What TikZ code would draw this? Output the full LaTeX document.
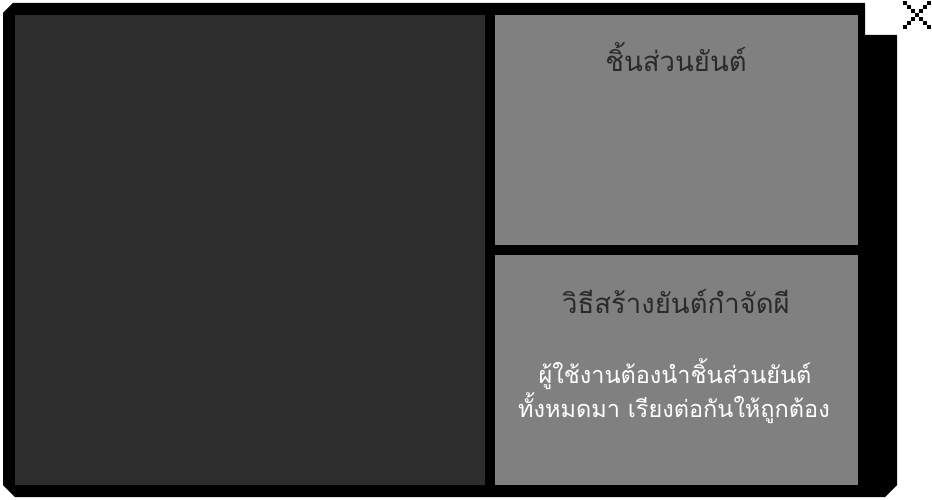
\documentclass[tikz,border=0pt]{standalone}
\usepackage{fontspec}
\newfontfamily\thaifont[Script=Thai]{Loma}
\definecolor{frameblack}{HTML}{000000}
\definecolor{darkpanel}{HTML}{2D2D2D}
\definecolor{graypanel}{HTML}{808080}
\definecolor{darktext}{HTML}{2A2A2A}
\tikzset{
  panel/.style={draw=none, inner sep=0pt, outer sep=0pt},
  titletext/.style={anchor=base, inner sep=0pt, text=darktext, font=\thaifont\fontsize{27.5}{34}\selectfont},
  bodytext/.style={anchor=base, inner sep=0pt, text=white, font=\thaifont\fontsize{23.5}{30}\selectfont},
  pix/.style={fill=black, draw=none}
}
\begin{document}
\begin{tikzpicture}[x=1pt,y=-1pt]
\useasboundingbox (0,0) rectangle (932,500);
\fill[white] (0,0) rectangle (932,500);
% outer black frame with chamfered corners and top-right notch
\fill[frameblack] (13,3) -- (865,3) -- (865,35) -- (897,35) -- (897,485)
  -- (885,497) -- (15,497) -- (3,485) -- (3,13) -- cycle;
% panels
\node[panel, fill=darkpanel, minimum width=470, minimum height=470] (left) at (250,250) {};
\node[panel, fill=graypanel, minimum width=363, minimum height=230] (parts) at (676.5,130) {};
\node[panel, fill=graypanel, minimum width=363, minimum height=230] (howto) at (676.5,370) {};
% texts
\node[titletext] (t1) at (676,72) {ชิ้นส่วนยันต์};
\node[titletext] (t2) at (676,313) {วิธีสร้างยันต์กำจัดผี};
\node[bodytext] (b1) at (675,383) {ผู้ใช้งานต้องนำชิ้นส่วนยันต์};
\node[bodytext] (b2) at (674,417) {ทั้งหมดมา เรียงต่อกันให้ถูกต้อง};
% close mark (pixel X)
\foreach \k in {0,...,6} {
  \fill[pix] (902.5+4*\k,1.5+4*\k) rectangle ++(4,4);
  \fill[pix] (926.5-4*\k,1.5+4*\k) rectangle ++(4,4);
}
\end{tikzpicture}
\end{document}
